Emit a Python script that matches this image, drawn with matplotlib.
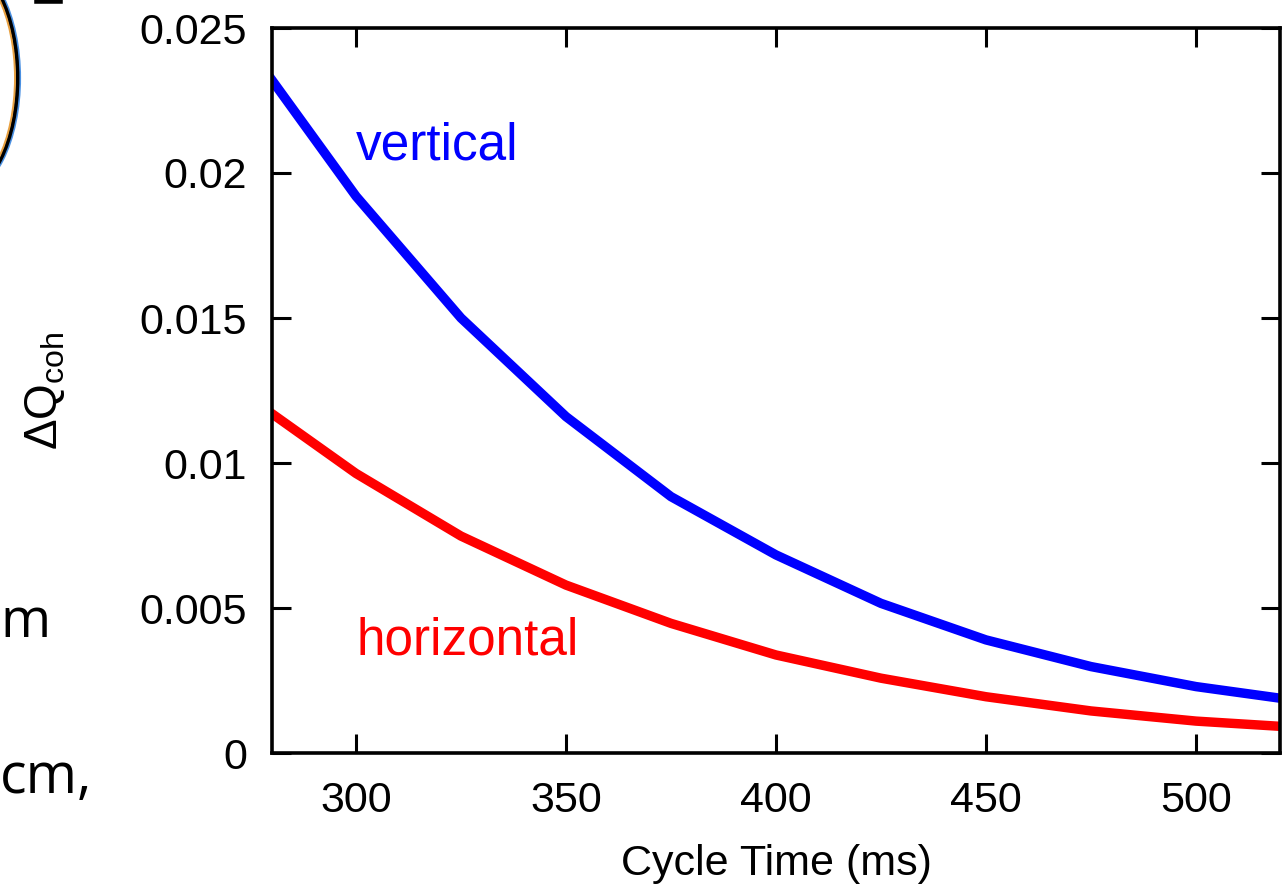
import matplotlib
matplotlib.use("Agg")
import matplotlib.pyplot as plt
from matplotlib.patches import Arc
from matplotlib.lines import Line2D

plt.rcParams['font.family'] = ['Liberation Sans', 'DejaVu Sans']
plt.rcParams['mathtext.fontset'] = 'custom'
plt.rcParams['mathtext.rm'] = 'Liberation Sans'
plt.rcParams['mathtext.it'] = 'Liberation Sans'

# Coherent tune shift vs. cycle time
cycle_time = [280, 300, 325, 350, 375, 400, 425, 450, 475, 500, 520]
dq_vertical = [0.0232, 0.0192, 0.0150, 0.0116, 0.00884, 0.00683, 0.00516,
               0.00390, 0.00298, 0.00229, 0.00189]
dq_horizontal = [0.0117, 0.00964, 0.00748, 0.00579, 0.00447, 0.00338,
                 0.00258, 0.00194, 0.00145, 0.00110, 0.00092]

x_ticks = [300, 350, 400, 450, 500]
y_ticks = [0, 0.005, 0.01, 0.015, 0.02, 0.025]
y_tick_labels = ['0', '0.005', '0.01', '0.015', '0.02', '0.025']

W, H = 1287, 888
fig = plt.figure(figsize=(W / 100, H / 100), dpi=100)
ax = fig.add_axes([272 / W, 1 - 753 / H, (1280 - 272) / W, (753 - 28) / H])

ax.plot(cycle_time, dq_vertical, color='#0000ff', lw=6.8, solid_joinstyle='miter')
ax.plot(cycle_time, dq_horizontal, color='#ff0000', lw=6.8, solid_joinstyle='miter')

ax.set_xlim(280, 520)
ax.set_ylim(0, 0.025)
ax.set_xticks(x_ticks)
ax.set_yticks(y_ticks)
ax.set_yticklabels(y_tick_labels)

ax.tick_params(direction='in', length=14, width=2.2, labelsize=31,
               top=True, right=True)
ax.tick_params(axis='x', pad=20)
ax.tick_params(axis='y', pad=18)
for s in ax.spines.values():
    s.set_linewidth(2.6)

ax.set_xlabel('Cycle Time (ms)', fontsize=31, labelpad=17)
ax.set_ylabel(r'$\mathregular{\Delta Q_{coh}}$', fontsize=33, labelpad=52)

ax.text(300, 0.02045, 'vertical', color='#0000ff', fontsize=37)
ax.text(300, 0.00338, 'horizontal', color='#ff0000', fontsize=37)

# Fragments of the neighbouring slide content on the left
fig.text(0, 1 - 637 / H, 'm', fontsize=39, family='Open Sans',
         ha='left', va='baseline')
fig.text(0, 1 - 793 / H, 'cm,', fontsize=40, family='Open Sans',
         ha='left', va='baseline')

arc_outer = Arc((-39, H - 78), 116, 230, theta1=-90, theta2=90,
                transform=None, color='#4a90e2', lw=3)
arc = Arc((-40.5, H - 78), 116, 230, theta1=-90, theta2=90,
          transform=None, color='black', lw=2.8)
arc_inner = Arc((-43, H - 78), 116, 230, theta1=-90, theta2=90,
                transform=None, color='#e8a040', lw=1.4)
for a in (arc_outer, arc, arc_inner):
    fig.add_artist(a)
fig.add_artist(Line2D([37, 60], [H - 1, H - 1], transform=None,
                      color='black', lw=4))

fig.savefig('out.png', dpi=100)
